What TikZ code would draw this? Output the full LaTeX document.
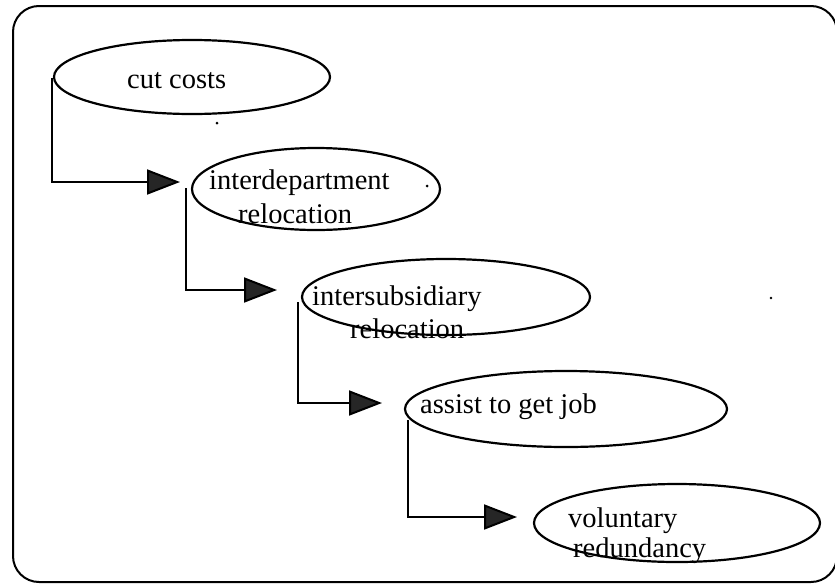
\documentclass[tikz,border=0pt]{standalone}
\usepackage{fontspec}
\setmainfont{Liberation Serif}
\usetikzlibrary{shapes.geometric,arrows.meta,calc}
\begin{document}
\begin{tikzpicture}[x=1pt,y=-1pt,
  bubble/.style={ellipse,draw,line width=2.2pt,inner sep=0pt},
  txt/.style={anchor=base west,inner sep=0pt,font=\fontsize{28.5}{30}\selectfont},
  conn/.style={line width=2pt,-{Triangle[length=33pt,width=25pt,fill=black!85]}},
  outline/.style={draw,line width=2pt,rounded corners=26pt}]
\useasboundingbox (0,0) rectangle (835,584);
\draw[outline] (13,6) rectangle (837,582);

% labels
\node[txt] (l1)  at (127,88)  {cut costs};
\node[txt] (l2a) at (209,189) {interdepartment};
\node[txt] (l2b) at (238,223) {relocation};
\node[txt] (l3a) at (312,305) {intersubsidiary};
\node[txt] (l3b) at (350,338) {relocation};
\node[txt] (l4)  at (420,413) {assist to get job};
\node[txt] (l5a) at (568,527) {voluntary};
\node[txt] (l5b) at (573,557) {redundancy};

% ellipses
\node[bubble,minimum width=276pt,minimum height=74pt] (e1) at (192,77) {};
\node[bubble,minimum width=248pt,minimum height=82pt] (e2) at (316,189) {};
\node[bubble,minimum width=288pt,minimum height=76pt] (e3) at (446,297) {};
\node[bubble,minimum width=322pt,minimum height=76pt] (e4) at (566,409) {};
\node[bubble,minimum width=286pt,minimum height=78pt] (e5) at (677,523) {};

% arrow ends
\coordinate (t1) at (180,182);
\coordinate (t2) at (277,290);
\coordinate (t3) at (382,403);
\coordinate (t4) at (517,517);

% connectors
\draw[conn] ($(e1.west)+(-1,1)$) |- (t1);
\draw[conn] ($(e2.west)+(-5,-1)$) |- (t2);
\draw[conn] ($(e3.west)+(-3,5)$) |- (t3);
\draw[conn] ($(e4.west)+(4,11)$) |- (t4);

% stray specks
\fill (217,123) circle (1.5);
\fill (427,186) circle (1.5);
\fill (771,298) circle (1.3);
\end{tikzpicture}
\end{document}
